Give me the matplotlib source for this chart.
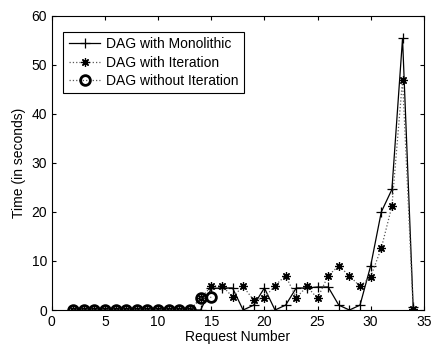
import matplotlib
matplotlib.use('Agg')
import matplotlib.pyplot as plt

# request numbers
req_all = list(range(2, 35))
req_no_iter = list(range(2, 16))

# DAG with Monolithic (solid, '+')
mono = [0, 0, 0, 0, 0, 0, 0, 0, 0, 0, 0, 0,
        0, 4.4, 4.5, 4.5, 0, 1, 4.5, 0, 1, 4.5, 4.5, 4.7, 4.7,
        1, 0, 1, 9, 20, 24.6, 55.4, 0.6]

# DAG with Iteration (dotted, '*')
iteration = [0, 0, 0, 0, 0, 0, 0, 0, 0, 0, 0, 0,
             2.4, 4.8, 5.0, 2.7, 4.8, 2.0, 2.5, 5.0, 7.0, 2.5, 4.8, 2.4,
             7.0, 9.0, 7.0, 4.8, 6.8, 12.6, 21.2, 47.0, 0.2]

# DAG without Iteration (dotted, 'o')
no_iter = [0, 0, 0, 0, 0, 0, 0, 0, 0, 0, 0, 0, 2.4, 2.6]

plt.rcParams['font.family'] = ['Liberation Sans', 'DejaVu Sans']
plt.rcParams['font.size'] = 10

fig = plt.figure(figsize=(4.32, 3.46), dpi=100)
ax = fig.add_axes([0.120, 0.104, 0.861, 0.850])

ax.plot(req_all, mono, '-', color='black', lw=0.9, marker='+', ms=7, mew=0.9,
        label='DAG with Monolithic')
ax.plot(req_all, iteration, ':', color='0.35', lw=0.9, marker=(8, 2, 0), ms=6,
        mec='black', mew=0.9, label='DAG with Iteration')
ax.plot(req_no_iter, no_iter, ':', color='0.35', lw=0.9, marker='o', ms=7,
        mfc='none', mec='black', mew=2, label='DAG without Iteration')

ax.set_xlim(0, 35)
ax.set_ylim(0, 60)
ax.set_xticks(range(0, 36, 5))
ax.set_yticks(range(0, 61, 10))
ax.tick_params(direction='in', top=True, right=True, length=3, width=0.8)
for s in ax.spines.values():
    s.set_linewidth(0.8)

ax.set_xlabel('Request Number', labelpad=1)
ax.set_ylabel('Time (in seconds)', labelpad=4)

leg = ax.legend(loc='upper left', bbox_to_anchor=(0.03, 0.946), fancybox=False,
                framealpha=1, edgecolor='black', handlelength=2.3, borderpad=0.4,
                labelspacing=0.3, handletextpad=0.4, borderaxespad=0)
leg.get_frame().set_linewidth(0.8)

fig.savefig('out.png', dpi=100)
